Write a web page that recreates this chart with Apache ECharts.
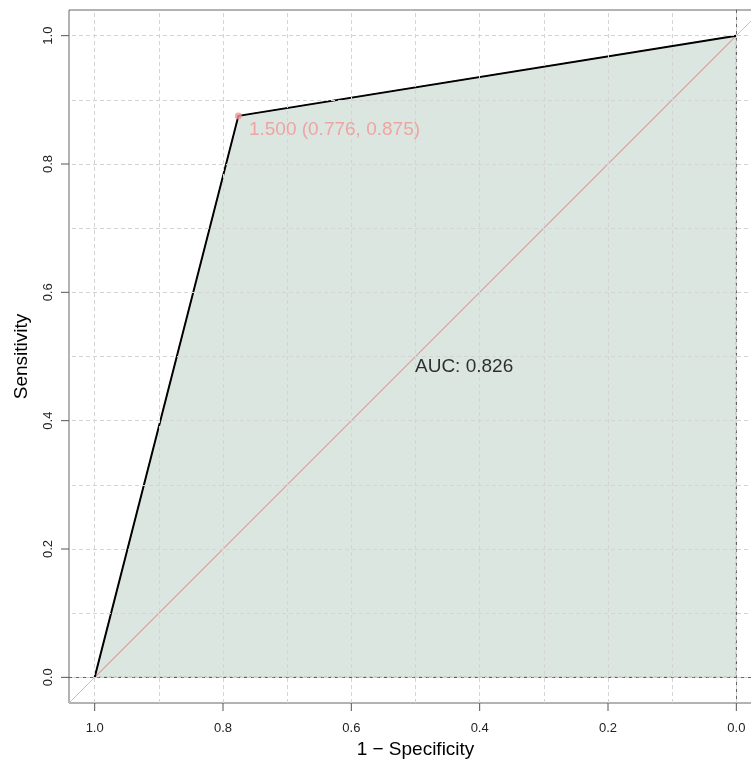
<!DOCTYPE html>
<html>
<head>
<meta charset="utf-8">
<script src="https://cdn.jsdelivr.net/npm/echarts@6/dist/echarts.min.js"></script>
<style>
  html, body { margin: 0; padding: 0; background: #fff; }
  #chart { width: 751px; height: 759px; }
</style>
</head>
<body>
<div id="chart"></div>
<script>
// ROC data (specificity on reversed x axis, sensitivity on y)
const specificity = [1.0, 0.776, 0.0];
const sensitivity = [0.0, 0.875, 1.0];
const thresholdPoint = [0.776, 0.875];
const thresholdValue = 1.5;
const aucValue = 0.826;
const gridValues = [0, 0.1, 0.2, 0.3, 0.4, 0.5, 0.6, 0.7, 0.8, 0.9, 1.0];
const tickValues = [0, 0.2, 0.4, 0.6, 0.8, 1.0];
const axisMin = -0.04;
const axisMax = 1.04;

const font = "'Liberation Sans', Arial, sans-serif";
const chart = echarts.init(document.getElementById('chart'));

// polygon under the curve, closed at (0,0)
const polyData = specificity.map((s, i) => [s, sensitivity[i]]).concat([[0, 0]]);

const gridLines = gridValues.map(v => ({ xAxis: v }))
  .concat(gridValues.map(v => ({ yAxis: v })));

const tickLen = 8;
const tickStyle = { stroke: '#555', lineWidth: 1 };

const axisCommon = {
  type: 'value',
  min: axisMin,
  max: axisMax,
  nameLocation: 'middle',
  nameTextStyle: { fontFamily: font, fontSize: 19, color: '#000', verticalAlign: 'middle' },
  axisLine: { show: true, lineStyle: { color: '#666', width: 1 } },
  axisTick: { show: false },
  splitLine: { show: false }
};

const option = {
  animation: false,
  backgroundColor: '#fff',
  grid: {
    left: 69, top: 10, width: 693, height: 693,
    outerBoundsMode: 'none',
    containLabel: false,
    show: true, borderColor: '#666', borderWidth: 1,
    backgroundColor: 'transparent'
  },
  xAxis: Object.assign({}, axisCommon, {
    inverse: true,
    name: '1 \u2212 Specificity',
    nameGap: 45,
    axisLabel: {
      customValues: tickValues, margin: 19,
      fontFamily: font, fontSize: 13, color: '#222',
      formatter: v => v.toFixed(1)
    }
  }),
  yAxis: Object.assign({}, axisCommon, {
    name: 'Sensitivity',
    nameGap: 47,
    axisLabel: {
      customValues: tickValues, margin: 14, rotate: 90,
      fontFamily: font, fontSize: 13, color: '#222',
      formatter: v => v.toFixed(1)
    }
  }),
  series: [
    {
      name: 'auc-area',
      type: 'custom',
      z: 1,
      silent: true,
      data: polyData,
      renderItem: function (params, api) {
        if (params.dataIndex !== 0) return null;
        const pts = polyData.map(p => api.coord(p));
        return {
          type: 'polygon',
          shape: { points: pts },
          style: { fill: '#dce6e0', stroke: '#555', lineWidth: 1, lineDash: [3, 2] }
        };
      }
    },
    {
      // outward tick marks on both axes, placed by the axis scales
      name: 'ticks',
      type: 'custom',
      z: 6,
      silent: true,
      clip: false,
      data: tickValues.map(v => [v, v]),
      renderItem: function (params, api) {
        const v = api.value(0);
        const bx = api.coord([v, axisMin]);
        const ly = api.coord([axisMax, v]);
        return {
          type: 'group',
          children: [
            { type: 'line', shape: { x1: bx[0], y1: bx[1], x2: bx[0], y2: bx[1] + tickLen }, style: tickStyle },
            { type: 'line', shape: { x1: ly[0], y1: ly[1], x2: ly[0] - tickLen, y2: ly[1] }, style: tickStyle }
          ]
        };
      }
    },
    {
      name: 'diag-grey-low',
      type: 'line',
      z: 2,
      silent: true,
      symbol: 'none',
      data: [[axisMax, axisMin], [1, 0]],
      lineStyle: { color: '#c4c4c4', width: 1 },
      markLine: {
        silent: true,
        symbol: 'none',
        label: { show: false },
        lineStyle: { color: '#d4d4d4', type: [4, 3], width: 1 },
        data: gridLines
      }
    },
    {
      name: 'diag-grey-high',
      type: 'line',
      z: 2,
      silent: true,
      symbol: 'none',
      data: [[0, 1], [axisMin, axisMax]],
      lineStyle: { color: '#c4c4c4', width: 1 }
    },
    {
      name: 'diag',
      type: 'line',
      z: 3,
      silent: true,
      symbol: 'none',
      data: [[1, 0], [0, 1]],
      lineStyle: { color: '#e89595', width: 1.1 }
    },
    {
      name: 'roc',
      type: 'line',
      z: 4,
      symbol: 'none',
      data: specificity.map((s, i) => [s, sensitivity[i]]),
      lineStyle: { color: '#000', width: 2 }
    },
    {
      name: 'threshold',
      type: 'scatter',
      z: 5,
      symbolSize: 7,
      data: [thresholdPoint],
      itemStyle: { color: '#f39595' },
      label: {
        show: true,
        position: [14, 17],
        align: 'left',
        verticalAlign: 'middle',
        fontFamily: font,
        fontSize: 19,
        color: '#f19393',
        formatter: () => thresholdValue.toFixed(3) + ' (' + thresholdPoint[0].toFixed(3) + ', ' + thresholdPoint[1].toFixed(3) + ')'
      }
    },
    {
      name: 'auc-text',
      type: 'scatter',
      z: 5,
      symbolSize: 1,
      data: [[0.5, 0.5]],
      itemStyle: { color: 'rgba(0,0,0,0)' },
      label: {
        show: true,
        position: [0, 1],
        align: 'left',
        verticalAlign: 'top',
        fontFamily: font,
        fontSize: 19,
        color: '#000',
        formatter: () => 'AUC: ' + aucValue.toFixed(3)
      }
    }
  ]
};

chart.setOption(option);
</script>
</body>
</html>
